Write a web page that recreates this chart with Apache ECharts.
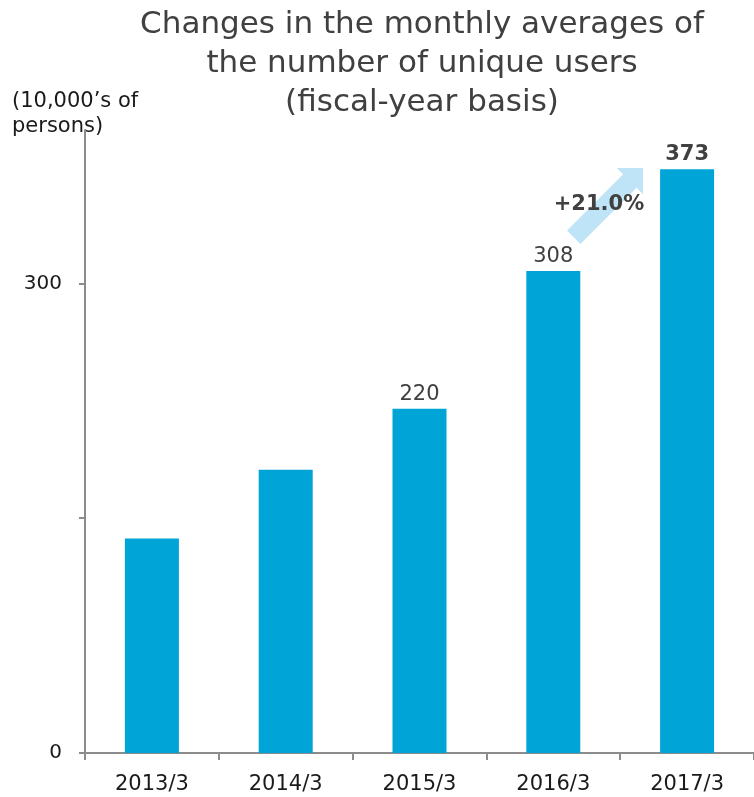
<!DOCTYPE html>
<html>
<head>
<meta charset="utf-8">
<script src="https://cdn.jsdelivr.net/npm/echarts@6/dist/echarts.min.js"></script>
<style>
  html, body { margin: 0; padding: 0; background: #fff; }
  #chart1 { width: 754px; height: 797px; }
</style>
</head>
<body>
<div id="chart1"></div>
<script>
// 月平均ユニークユーザー数
var categories = ['2013/3', '2014/3', '2015/3', '2016/3', '2017/3'];
var users = [137, 181, 220, 308, 373];
var showLabel = [false, false, true, true, true];
var boldLabel = [false, false, false, false, true];
var yTickValues = [0, 150, 300];
var yLabelValues = [0, 300];
var growthText = '+21.0%';

var font = '"DejaVu Sans", Verdana, sans-serif';
var chart1 = echarts.init(document.getElementById('chart1'));

var barData = users.map(function (v, i) {
    return {
        value: v,
        label: {
            show: showLabel[i],
            fontWeight: boldLabel[i] ? 'bold' : 'normal'
        }
    };
});

var option = {
    animation: false,
    title: {
        text: 'Changes in the monthly averages of\nthe number of unique users\n(fiscal-year basis)',
        left: 417,
        textAlign: 'center',
        top: 0,
        textStyle: {
            color: '#404040',
            fontFamily: font,
            fontSize: 31,
            fontWeight: 'normal',
            lineHeight: 39
        }
    },
    grid: {
        left: 85,
        right: -2,
        top: 130,
        bottom: 44
    },
    xAxis: {
        type: 'category',
        data: categories,
        axisLine: { lineStyle: { color: '#8c8c8c', width: 2 } },
        axisTick: { show: true, length: 7, lineStyle: { color: '#8c8c8c', width: 2 } },
        axisLabel: {
            color: '#1a1a1a',
            fontFamily: font,
            fontSize: 21,
            margin: 21
        }
    },
    yAxis: {
        type: 'value',
        min: 0,
        max: 398,
        name: "(10,000’s of\npersons)",
        nameLocation: 'end',
        nameGap: -9,
        nameTextStyle: {
            color: '#1a1a1a',
            fontFamily: font,
            fontSize: 21,
            lineHeight: 25,
            align: 'left',
            verticalAlign: 'bottom',
            padding: [0, 0, 0, -73]
        },
        splitLine: { show: false },
        axisLine: { show: true, lineStyle: { color: '#8c8c8c', width: 2 } },
        axisTick: {
            show: true,
            length: 6,
            customValues: yTickValues,
            lineStyle: { color: '#8c8c8c', width: 2 }
        },
        axisLabel: {
            customValues: yLabelValues,
            color: '#1a1a1a',
            fontFamily: font,
            fontSize: 20,
            margin: 23
        }
    },
    series: [
        {
            name: 'users',
            type: 'bar',
            data: barData,
            barWidth: 54,
            itemStyle: { color: '#00a4d6' },
            label: {
                position: 'top',
                distance: 4,
                color: '#404040',
                fontFamily: font,
                fontSize: 21
            }
        }
    ]
};

chart1.setOption(option);

// 伸び率の矢印 (2016/3 → 2017/3)
function arrowPoints(tip, len, shaftHalf, headHalf) {
    var d = [Math.SQRT1_2, -Math.SQRT1_2];
    var n = [Math.SQRT1_2, Math.SQRT1_2];
    function p(a, b) {
        return [tip[0] + a * d[0] + b * n[0], tip[1] + a * d[1] + b * n[1]];
    }
    return [
        p(0, 0),
        p(-headHalf, headHalf),
        p(-headHalf, shaftHalf),
        p(-len, shaftHalf),
        p(-len, -shaftHalf),
        p(-headHalf, -shaftHalf),
        p(-headHalf, -headHalf)
    ];
}

var tip = [643, 168];
chart1.setOption({
    graphic: [
        {
            type: 'polygon',
            z: 1,
            shape: { points: arrowPoints(tip, 98, 9.5, 18.5) },
            style: { fill: '#bfe4f7' }
        },
        {
            type: 'text',
            z: 2,
            x: 599,
            y: 205,
            style: {
                text: growthText,
                fill: '#404040',
                font: 'bold 21px ' + font,
                align: 'center',
                verticalAlign: 'middle'
            }
        }
    ]
});

window.addEventListener('resize', function () {
    chart1.resize();
});
</script>
</body>
</html>
